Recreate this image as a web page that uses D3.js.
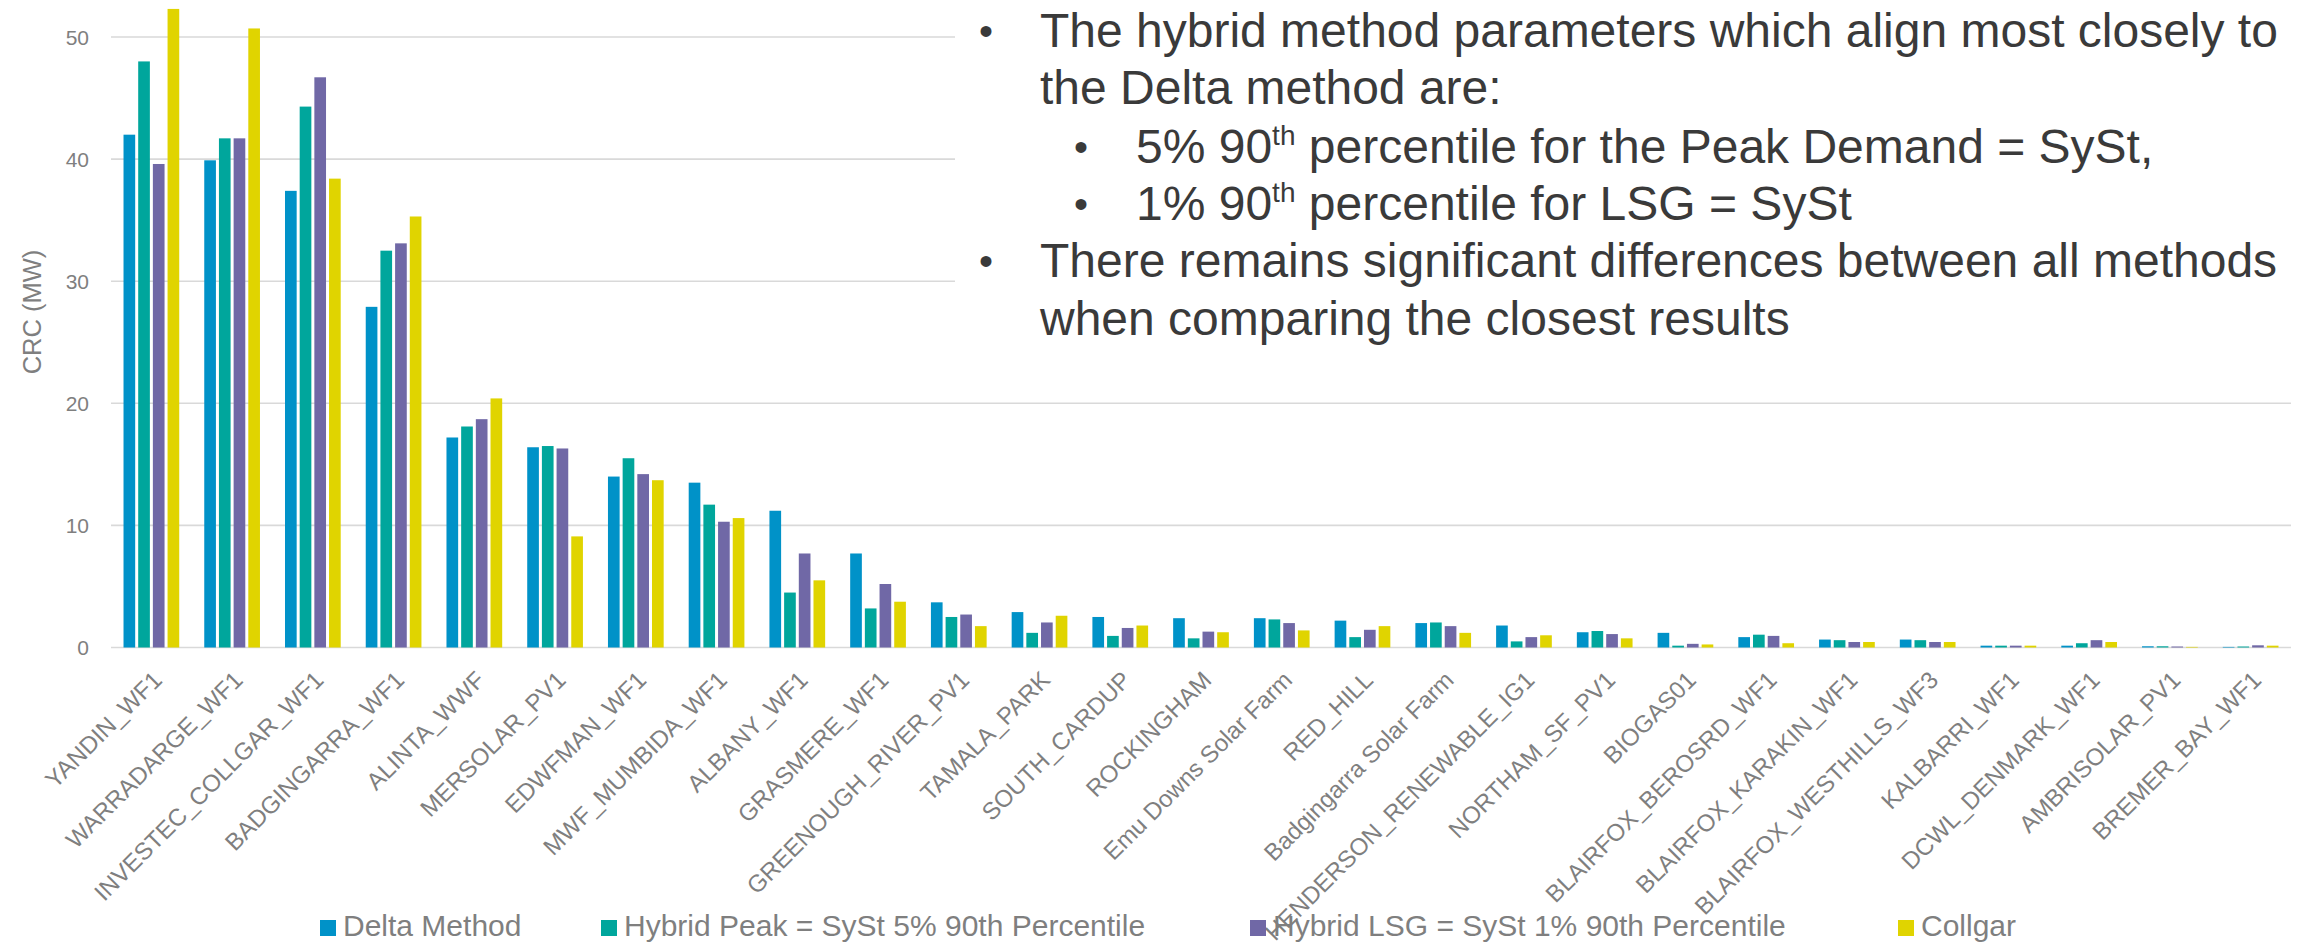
<!DOCTYPE html>
<html>
<head>
<meta charset="utf-8">
<script src="https://cdnjs.cloudflare.com/ajax/libs/d3/7.8.5/d3.min.js"></script>
<style>
  html, body { margin: 0; padding: 0; background: #fff; }
  svg { display: block; font-family: "Liberation Sans", Arial, sans-serif; }
</style>
</head>
<body>
<svg id="chart" width="2308" height="943"></svg>
<script>
// Capacity credit per facility (MW) under each assessment method
const categories = [
  "YANDIN_WF1", "WARRADARGE_WF1", "INVESTEC_COLLGAR_WF1", "BADGINGARRA_WF1",
  "ALINTA_WWF", "MERSOLAR_PV1", "EDWFMAN_WF1", "MWF_MUMBIDA_WF1", "ALBANY_WF1",
  "GRASMERE_WF1", "GREENOUGH_RIVER_PV1", "TAMALA_PARK", "SOUTH_CARDUP",
  "ROCKINGHAM", "Emu Downs Solar Farm", "RED_HILL", "Badgingarra Solar Farm",
  "HENDERSON_RENEWABLE_IG1", "NORTHAM_SF_PV1", "BIOGAS01", "BLAIRFOX_BEROSRD_WF1",
  "BLAIRFOX_KARAKIN_WF1", "BLAIRFOX_WESTHILLS_WF3", "KALBARRI_WF1",
  "DCWL_DENMARK_WF1", "AMBRISOLAR_PV1", "BREMER_BAY_WF1"
];

const deltaMethod = [42.0, 39.9, 37.4, 27.9, 17.2, 16.4, 14.0, 13.5, 11.2, 7.7, 3.7, 2.9, 2.5, 2.4, 2.4, 2.2, 2.0, 1.8, 1.25, 1.2, 0.85, 0.65, 0.65, 0.15, 0.15, 0.1, 0.05];
const hybridPeak  = [48.0, 41.7, 44.3, 32.5, 18.1, 16.5, 15.5, 11.7, 4.5, 3.2, 2.5, 1.2, 0.95, 0.75, 2.3, 0.85, 2.05, 0.5, 1.35, 0.15, 1.05, 0.6, 0.6, 0.15, 0.35, 0.1, 0.08];
const hybridLSG   = [39.6, 41.7, 46.7, 33.1, 18.7, 16.3, 14.2, 10.3, 7.7, 5.2, 2.7, 2.05, 1.6, 1.3, 2.0, 1.45, 1.75, 0.85, 1.1, 0.3, 0.95, 0.45, 0.45, 0.15, 0.6, 0.08, 0.18];
const collgar     = [52.3, 50.7, 38.4, 35.3, 20.4, 9.1, 13.7, 10.6, 5.5, 3.75, 1.75, 2.6, 1.8, 1.25, 1.4, 1.75, 1.2, 1.0, 0.75, 0.25, 0.35, 0.45, 0.45, 0.15, 0.45, 0.05, 0.15];

const seriesNames = [
  "Delta Method",
  "Hybrid Peak = SySt 5% 90th Percentile",
  "Hybrid LSG = SySt 1% 90th Percentile",
  "Collgar"
];
const seriesColors = ["#0092C8", "#00A69C", "#7068A6", "#E0D400"];
const seriesValues = [deltaMethod, hybridPeak, hybridLSG, collgar];

const yTicks = [0, 10, 20, 30, 40, 50];
const yTitle = "CRC (MW)";

const notes = [
  { level: 0, parts: [{ t: "The hybrid method parameters which align most closely to" }] },
  { level: -1, parts: [{ t: "the Delta method are:" }] },
  { level: 1, parts: [{ t: "5% 90" }, { t: "th", sup: true }, { t: " percentile for the Peak Demand = SySt," }] },
  { level: 1, parts: [{ t: "1% 90" }, { t: "th", sup: true }, { t: " percentile for LSG = SySt" }] },
  { level: 0, parts: [{ t: "There remains significant differences between all methods" }] },
  { level: -1, parts: [{ t: "when comparing the closest results" }] }
];

// ---- layout ----
const W = 2308, H = 943;
const plot = { left: 111, right: 2291, top: 37, bottom: 647.5 };
const grey = "#7F7F7F";
const gridColor = "#D9D9D9";

const svg = d3.select("#chart");

const x0 = d3.scaleBand()
  .domain(categories)
  .range([plot.left, plot.right])
  .paddingInner(0.31)
  .paddingOuter(0.155);

const x1 = d3.scaleBand()
  .domain(d3.range(seriesNames.length))
  .range([0, x0.bandwidth()])
  .paddingInner(0.205);

const y = d3.scaleLinear().domain([0, 50]).range([plot.bottom, plot.top]);

// gridlines
svg.append("g")
  .selectAll("line")
  .data(yTicks)
  .join("line")
  .attr("x1", plot.left)
  .attr("x2", plot.right)
  .attr("y1", d => y(d))
  .attr("y2", d => y(d))
  .attr("stroke", gridColor)
  .attr("stroke-width", 1.6);

// y axis tick labels
const yAxis = d3.axisLeft(y).tickValues(yTicks).tickSize(0).tickPadding(0);
const yg = svg.append("g").attr("transform", `translate(89,0)`).call(yAxis);
yg.select(".domain").remove();
yg.selectAll("text")
  .attr("fill", grey)
  .attr("font-size", 21)
  .attr("font-family", "'Liberation Sans', Arial, sans-serif")
  .attr("dy", "0.35em");

// y axis title
svg.append("text")
  .attr("transform", `translate(41,312) rotate(-90)`)
  .attr("text-anchor", "middle")
  .attr("fill", grey)
  .attr("font-size", 25.5)
  .text(yTitle);

// bars
const groups = svg.append("g")
  .selectAll("g")
  .data(categories)
  .join("g")
  .attr("transform", d => `translate(${x0(d)},0)`);

groups.selectAll("rect")
  .data((d, i) => seriesValues.map((vals, s) => ({ s, v: vals[i] })))
  .join("rect")
  .attr("x", d => x1(d.s))
  .attr("width", x1.bandwidth())
  .attr("y", d => y(d.v))
  .attr("height", d => y(0) - y(d.v))
  .attr("fill", d => seriesColors[d.s]);

// x axis category labels, rotated
const xAxis = d3.axisBottom(x0).tickSize(0).tickPadding(0);
const xg = svg.append("g").attr("transform", `translate(0,${plot.bottom})`).call(xAxis);
xg.select(".domain").remove();
xg.selectAll("text")
  .attr("fill", grey)
  .attr("font-size", 24)
  .attr("font-family", "'Liberation Sans', Arial, sans-serif")
  .attr("text-anchor", "end")
  .attr("dy", null)
  .attr("y", 0)
  .attr("transform", "translate(12,34) rotate(-45)");

// legend
const legendX = [320, 601, 1250, 1898];
const legend = svg.append("g")
  .selectAll("g")
  .data(seriesNames)
  .join("g")
  .attr("transform", (d, i) => `translate(${legendX[i]},920)`);
legend.append("rect")
  .attr("width", 16).attr("height", 16)
  .attr("fill", (d, i) => seriesColors[i]);
legend.append("text")
  .attr("x", 23).attr("y", 16)
  .attr("fill", grey)
  .attr("font-size", 30)
  .text(d => d);

// commentary panel
svg.append("rect")
  .attr("x", 955).attr("y", 0)
  .attr("width", W - 955).attr("height", 360)
  .attr("fill", "#fff");

const baselines = [47, 104, 163, 220, 277, 335];
const textX = { 0: 1040, "-1": 1040, 1: 1136 };
const bulletX = { 0: 979, 1: 1074 };
const notesG = svg.append("g").attr("fill", "#3A3A3A").attr("font-size", 48);
notes.forEach((line, i) => {
  if (line.level >= 0) {
    notesG.append("text")
      .attr("x", bulletX[line.level])
      .attr("y", baselines[i] - 2)
      .attr("font-size", 40)
      .text("\u2022");
  }
  const t = notesG.append("text")
    .attr("x", textX[line.level])
    .attr("y", baselines[i]);
  line.parts.forEach(p => {
    if (p.sup) {
      t.append("tspan").attr("font-size", 28).attr("dy", -18).text(p.t);
    } else {
      const ts = t.append("tspan").text(p.t);
      if (t.selectAll("tspan").size() > 1) ts.attr("dy", 18);
    }
  });
});
</script>
</body>
</html>
